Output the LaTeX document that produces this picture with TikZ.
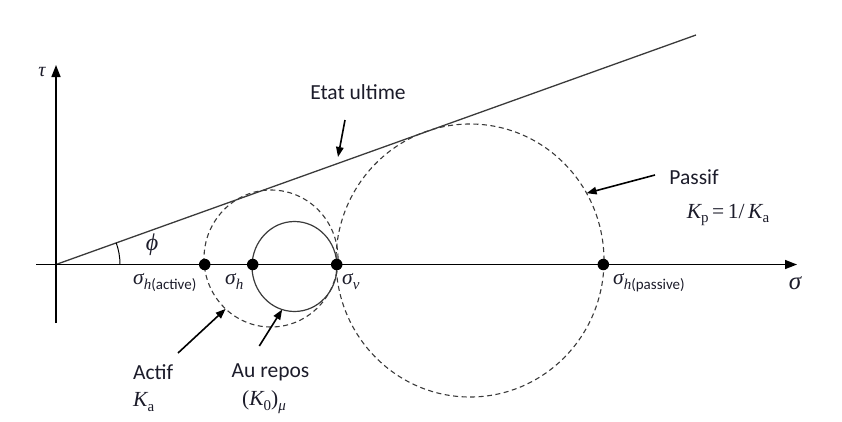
\documentclass[tikz,border=0pt]{standalone}
\usepackage{fontspec}
\setmainfont{Carlito}
\newfontfamily\mohrserif{Liberation Serif}
\usetikzlibrary{arrows.meta,shapes.geometric}
\definecolor{MohrInk}{HTML}{1C1C2A}
\definecolor{MohrGrey}{HTML}{3A3A3A}
\newcommand{\mohrsub}[1]{\raisebox{-0.5ex}{\fontsize{15}{15}\selectfont #1}}
\newcommand{\mohrit}[1]{{\mohrserif\itshape #1}}

\begin{document}
\begin{tikzpicture}[x=1pt,y=1pt,
    every node/.style={font=\fontsize{21.5}{24}\selectfont, text=MohrInk, inner sep=0pt},
    axis/.style={line width=1.6pt, -{Triangle[length=12pt,width=9pt]}},
    pointer/.style={line width=1.6pt, -{Triangle[length=10pt,width=7.5pt]}},
    mohr/.style={draw=MohrGrey, line width=1.1pt, dash pattern=on 5pt off 3.5pt, ellipse, outer sep=0pt},
    stress/.style={circle, fill=black, minimum size=11.5pt}]
    \useasboundingbox (-56,-156.5) rectangle (786,264.5);

    % axes and failure line
    \coordinate (origin) at (0,0);
    \coordinate (sigmastart) at (-20,0);
    \coordinate (sigmaend) at (741,0);
    \coordinate (taustart) at (0,-58.5);
    \coordinate (tauend) at (0,199.5);
    \coordinate (ultimeend) at (640,229.5);

    % Mohr circles
    \node[mohr, minimum width=134pt, minimum height=137pt] (activecircle) at (215,6) {};
    \node[mohr, minimum width=268pt, minimum height=273pt] (passivecircle) at (414,4) {};
    \node[draw=MohrGrey, line width=1.2pt, ellipse, outer sep=0pt, minimum width=85pt, minimum height=90pt] (reposcircle) at (238.5,-2) {};

    \draw[line width=1.3pt, MohrGrey] (origin) -- (ultimeend);
    \draw[axis] (sigmastart) -- (sigmaend);
    \draw[axis] (taustart) -- (tauend);
    \draw[line width=1pt] (64,0) arc[start angle=0, end angle=19.7, radius=64];

    \node[stress] (shactive) at (148.7,0) {};
    \node[stress] (sh) at (196.7,0) {};
    \node[stress] (sv) at (280.7,0) {};
    \node[stress] (shpassive) at (547.3,0) {};

    % labels
    \node[font=\fontsize{20}{22}\selectfont] (tau) at (-14,192.5) {\mohrit{τ}};
    \node[font=\fontsize{25}{28}\selectfont] (sigma) at (739,-19) {\mohrit{σ}};
    \node[font=\fontsize{24}{26}\selectfont] (phi) at (96,19.5) {\mohrit{ϕ}};
    \node[anchor=base west] (shactivelabel) at (77,-19.5) {\mohrit{σ}\mohrsub{\mohrit{h}(active)}};
    \node[anchor=base west] (shlabel) at (169,-19.5) {\mohrit{σ}\mohrsub{\mohrit{h}}};
    \node[anchor=base west] (svlabel) at (286,-19.5) {\mohrit{σ}\mohrsub{\mohrit{v}}};
    \node[anchor=base west] (shpassivelabel) at (557,-19.5) {\mohrit{σ}\mohrsub{\mohrit{h}(passive)}};

    \node (ultime) at (302,172.5) {Etat ultime};
    \node (passif) at (638,87.5) {Passif};
    \node (kp) at (672,49.5) {{\mohrserif\mohrit{K}\mohrsub{p}\,=\,1/\,\mohrit{K}\mohrsub{a}}};
    \node[anchor=west] (actif) at (77,-107.5) {Actif};
    \node[anchor=west] (ka) at (77,-137.5) {\mohrit{K}\mohrsub{\mohrserif a}};
    \node (repos) at (214.5,-107.5) {Au repos};
    \node (kzero) at (208,-137.5) {{\mohrserif(\mohrit{K}\mohrsub{0})\mohrsub{\mohrit{μ}}}};

    % pointers
    \coordinate (ultimetail) at (289,144.5);
    \coordinate (ultimehit) at (282,107.5);
    \coordinate (passiftail) at (599,89.5);
    \coordinate (actiftail) at (122,-88.5);
    \coordinate (repostail) at (203.3,-81.5);
    \draw[pointer] (ultimetail) -- (ultimehit);
    \draw[pointer] (passiftail) -- (passivecircle.30);
    \draw[pointer] (actiftail) -- (activecircle.-132);
    \draw[pointer] (repostail) -- (reposcircle.-106);
\end{tikzpicture}
\end{document}
